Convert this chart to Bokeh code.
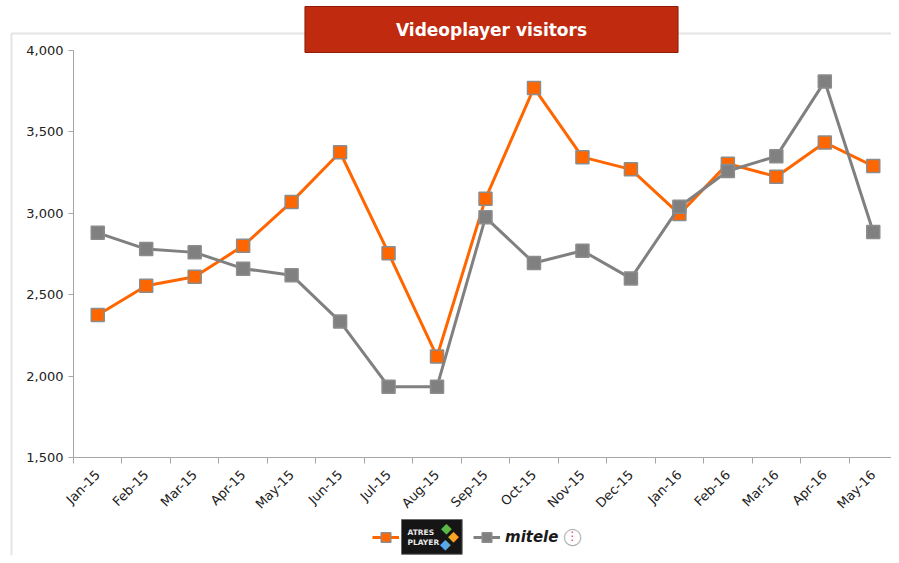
import math
from bokeh.plotting import figure
from bokeh.models import (Range1d, FixedTicker, NumeralTickFormatter, Label,
                          Legend, LegendItem)
from bokeh.embed import file_html
from bokeh.resources import INLINE

# ---------------- data ----------------
months = ["Jan-15", "Feb-15", "Mar-15", "Apr-15", "May-15", "Jun-15", "Jul-15",
          "Aug-15", "Sep-15", "Oct-15", "Nov-15", "Dec-15", "Jan-16", "Feb-16",
          "Mar-16", "Apr-16", "May-16"]
atresplayer = [2375, 2555, 2610, 2800, 3070, 3375, 2755, 2120, 3090, 3770,
               3345, 3270, 2995, 3305, 3225, 3435, 3290]
mitele = [2880, 2780, 2760, 2660, 2620, 2335, 1935, 1935, 2975, 2695,
          2770, 2600, 3040, 3260, 3350, 3810, 2885]
y_ticks = [1500, 2000, 2500, 3000, 3500, 4000]
title_text = "Videoplayer visitors"

x_idx = list(range(len(months)))

# ---------------- layout (pixels) ----------------
W, H = 891, 555
PLOT_L, PLOT_R = 73, 897      # pixel span of the category axis
PLOT_T, PLOT_B = 50, 457      # pixel span of the value axis
n = len(months)
px_per_cat = (PLOT_R - PLOT_L) / n
px_per_val = (PLOT_B - PLOT_T) / (y_ticks[-1] - y_ticks[0])
x_start = -0.5 - PLOT_L / px_per_cat
x_end = x_start + W / px_per_cat
y_end = y_ticks[-1] + PLOT_T / px_per_val
y_start = y_ticks[0] - (H - PLOT_B) / px_per_val

FONT = "DejaVu Sans"
AXIS_GRAY = "#a6a6a6"
ORANGE = "#ff6600"
GRAY = "#808080"

p = figure(width=W, height=H,
           x_range=Range1d(x_start, x_end), y_range=Range1d(y_start, y_end),
           output_backend="svg", toolbar_location=None,
           min_border_left=0, min_border_right=0,
           min_border_top=0, min_border_bottom=0)
p.xgrid.visible = False
p.ygrid.visible = False
p.outline_line_color = None
p.background_fill_color = "white"
p.border_fill_color = "white"

# x axis: labels at category centres, tick marks between categories
p.xaxis.fixed_location = y_ticks[0]
p.xaxis.bounds = (-0.5, n - 0.5)
p.xaxis.ticker = FixedTicker(ticks=x_idx, minor_ticks=[i - 0.5 for i in range(n + 1)])
p.xaxis.major_label_overrides = {i: m for i, m in enumerate(months)}
p.xaxis.major_label_orientation = math.pi / 4
p.xaxis.major_tick_line_color = None
p.xaxis.major_tick_out = 0
p.xaxis.major_tick_in = 0
p.xaxis.minor_tick_line_color = AXIS_GRAY
p.xaxis.minor_tick_out = 6
p.xaxis.minor_tick_in = 0
p.xaxis.major_label_standoff = 9

p.yaxis.fixed_location = -0.5
p.yaxis.bounds = (y_ticks[0], y_ticks[-1])
p.yaxis.ticker = FixedTicker(ticks=y_ticks)
p.yaxis.formatter = NumeralTickFormatter(format="0,0")
p.yaxis.major_tick_out = 5
p.yaxis.major_tick_in = 0
p.yaxis.major_tick_line_color = AXIS_GRAY
p.yaxis.minor_tick_line_color = None
p.yaxis.major_label_standoff = 5

for ax in (p.xaxis, p.yaxis):
    ax.axis_line_color = AXIS_GRAY
    ax.major_label_text_font = FONT
    ax.major_label_text_font_size = "13px"
    ax.major_label_text_color = "#222222"


def sx(X):
    return X


def sy(Y):
    return H - Y


# outer light border
p.add_layout(Label(x=sx(11), y=sy(33), x_units="screen", y_units="screen",
                   text=" ", text_align="left", text_baseline="top",
                   text_font_size="10px",
                   border_line_color="#e4e4e4", border_line_width=2,
                   background_fill_color=None,
                   padding=dict(left=0, right=900, top=0, bottom=540)))

# ---------------- series ----------------
r1 = p.line(x_idx, atresplayer, line_color=ORANGE, line_width=3)
s1 = p.scatter(x_idx, atresplayer, marker="square", size=13,
               fill_color=ORANGE, line_color="#8c8c8c", line_width=1.5)
r2 = p.line(x_idx, mitele, line_color=GRAY, line_width=3)
s2 = p.scatter(x_idx, mitele, marker="square", size=13,
               fill_color=GRAY, line_color="#8c8c8c", line_width=1.5)

# title banner (shadow + box + lighter upper half)
p.add_layout(Label(x=sx(494), y=sy(32), x_units="screen", y_units="screen",
                   text=title_text, text_align="center", text_baseline="middle",
                   text_font=FONT, text_font_style="bold", text_font_size="17px",
                   text_alpha=0, background_fill_color="black", background_fill_alpha=0.25,
                   padding=dict(left=91, right=91, top=13, bottom=13)))
p.add_layout(Label(x=sx(491), y=sy(29), x_units="screen", y_units="screen",
                   text=title_text, text_align="center", text_baseline="middle",
                   text_color="white", text_font=FONT, text_font_style="bold",
                   text_font_size="17px",
                   background_fill_color="#c02a0e", border_line_color="#8e1c07",
                   border_line_width=1,
                   padding=dict(left=91, right=91, top=13, bottom=13)))

# ---------------- legend ----------------
legend = Legend(items=[LegendItem(label=" ", renderers=[r1, s1]),
                       LegendItem(label="mitele", renderers=[r2, s2])],
                location=(sx(372), sy(549)), orientation="horizontal",
                border_line_color=None, background_fill_alpha=0,
                padding=0, margin=0, spacing=5,
                glyph_width=27, glyph_height=24, label_standoff=5,
                label_width=64, label_height=16,
                label_text_font=FONT, label_text_font_style="bold italic",
                label_text_font_size="15px", label_text_color="#1a1a1a")
p.add_layout(legend)

# ATRESPLAYER logo box
p.add_layout(Label(x=sx(401), y=sy(519), x_units="screen", y_units="screen",
                   text="ATRES\nPLAYER", text_align="left", text_baseline="top",
                   text_font=FONT, text_font_style="bold", text_font_size="7.5px",
                   text_color="#e8e8e8", background_fill_color="#151515",
                   border_line_color="#6a6a6a", border_line_width=1,
                   padding=dict(left=6, right=23, top=8, bottom=7)))
for (dx, dy, col) in [(446, 527, "#5cb946"), (453, 535, "#f5a623"), (445, 543, "#5aa8e4")]:
    p.add_layout(Label(x=sx(dx), y=sy(dy), x_units="screen", y_units="screen",
                       text="\u25c6", text_align="center", text_baseline="middle",
                       text_font=FONT, text_font_size="14px", text_color=col))

# mitele logo
p.add_layout(Label(x=sx(572), y=sy(535), x_units="screen", y_units="screen",
                   text="\u25ef", text_align="center", text_baseline="middle",
                   text_font=FONT, text_font_size="17px", text_color="#b0b0b0"))
p.add_layout(Label(x=sx(572), y=sy(535), x_units="screen", y_units="screen",
                   text="\u22ee", text_align="center", text_baseline="middle",
                   text_font=FONT, text_font_size="12px", text_color="#e8336b"))

open("out.html", "w").write(file_html(p, INLINE))
